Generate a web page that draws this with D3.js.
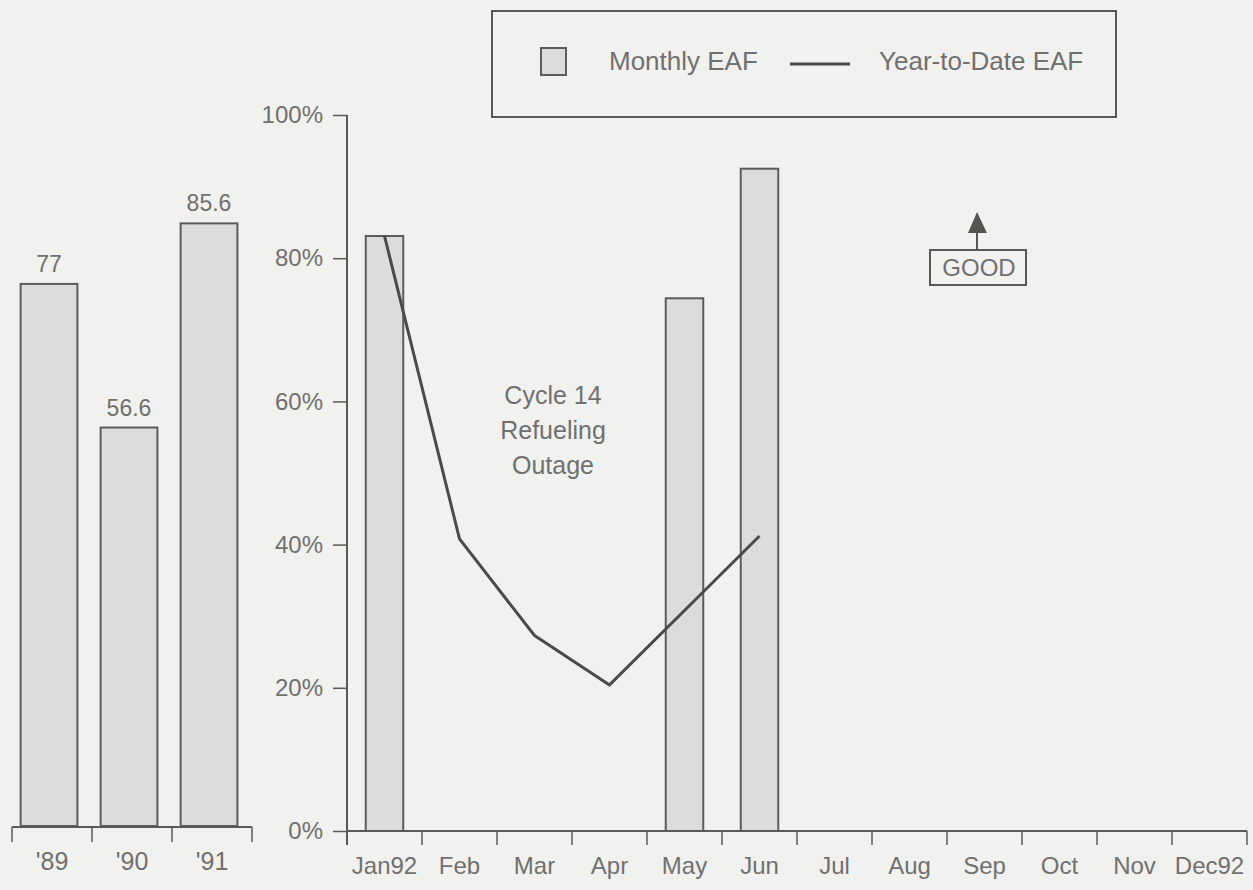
<!DOCTYPE html>
<html><head><meta charset="utf-8">
<script src="https://cdn.jsdelivr.net/npm/d3@7"></script>
<style>
html,body{margin:0;padding:0;background:#f1f1ef;}
svg{display:block;font-family:"Liberation Sans",Arial,sans-serif;}
</style></head>
<body>
<svg id="c" width="1253" height="890"></svg>
<script>
// ---- data ----
const years = ["'89", "'90", "'91"];
const yearValues = [77, 56.6, 85.6];
const yearLabels = ["77", "56.6", "85.6"];
const months = ["Jan92","Feb","Mar","Apr","May","Jun","Jul","Aug","Sep","Oct","Nov","Dec92"];
const monthlyEAF = [83.1, null, null, null, 74.4, 92.5, null, null, null, null, null, null];
const ytdEAF = [83.1, 40.8, 27.3, 20.4, 30.8, 41.2];
const yTicks = [0, 20, 40, 60, 80, 100];
const legendLabels = ["Monthly EAF", "Year-to-Date EAF"];
const noteLines = ["Cycle 14", "Refueling", "Outage"];

const svg = d3.select("#c");
const textCol = "#707070", lineCol = "#5a5a5a", barFill = "#dcdcda", barStroke = "#5c5c5c";

// ---- left chart (annual) ----
const xL = d3.scaleBand().domain(years).range([12, 252]).paddingInner(0.29).paddingOuter(0.145);
const yL = d3.scaleLinear().domain([0, 100]).range([826, 122]);
const gL = svg.append("g");
gL.selectAll("rect").data(years).join("rect")
  .attr("x", d => xL(d) - 3).attr("width", xL.bandwidth())
  .attr("y", (d,i) => yL(yearValues[i])).attr("height", (d,i) => yL(0) - yL(yearValues[i]))
  .attr("fill", barFill).attr("stroke", barStroke).attr("stroke-width", 2);
gL.selectAll("text.v").data(years).join("text").attr("class","v")
  .attr("x", d => xL(d) - 3 + xL.bandwidth()/2).attr("y", (d,i) => yL(yearValues[i]) - 12)
  .attr("text-anchor","middle").attr("font-size", 23).attr("fill", textCol)
  .text((d,i) => yearLabels[i]);
gL.append("line").attr("x1", xL.range()[0]).attr("x2", xL.range()[1])
  .attr("y1", 827).attr("y2", 827).attr("stroke", lineCol).attr("stroke-width", 2);
d3.range(years.length + 1).forEach(i => {
  const x = xL.range()[0] + i * xL.step();
  gL.append("line").attr("x1", x).attr("x2", x).attr("y1", 827).attr("y2", 842)
    .attr("stroke", lineCol).attr("stroke-width", 1.5);
});
gL.selectAll("text.c").data(years).join("text").attr("class","c")
  .attr("x", d => xL(d) + xL.bandwidth()/2).attr("y", 870)
  .attr("text-anchor","middle").attr("font-size", 25).attr("fill", textCol).text(d => d);

// ---- right chart (monthly) ----
const xR = d3.scaleBand().domain(months).range([347, 1247]).paddingInner(0.5).paddingOuter(0.25);
const yR = d3.scaleLinear().domain([0, 100]).range([831, 115]);
const gR = svg.append("g");
const mData = months.map((m,i) => ({m, v: monthlyEAF[i]})).filter(d => d.v != null);
gR.selectAll("rect").data(mData).join("rect")
  .attr("x", d => xR(d.m)).attr("width", xR.bandwidth())
  .attr("y", d => yR(d.v)).attr("height", d => yR(0) - yR(d.v))
  .attr("fill", barFill).attr("stroke", barStroke).attr("stroke-width", 2);

// y axis
const yAxis = gR.append("g").attr("transform", "translate(347,0)")
  .call(d3.axisLeft(yR).tickValues(yTicks).tickSize(14).tickSizeOuter(0).tickPadding(10).tickFormat(d => d + "%"));
yAxis.select(".domain").remove();
yAxis.selectAll(".tick line").attr("stroke", lineCol).attr("stroke-width", 1.5);
yAxis.selectAll(".tick text").attr("font-size", 24).attr("fill", textCol)
  .attr("font-family","Liberation Sans, Arial, sans-serif");
gR.append("line").attr("x1", 347).attr("x2", 347).attr("y1", yR(100)).attr("y2", 845)
  .attr("stroke", lineCol).attr("stroke-width", 2);

// x axis
gR.append("line").attr("x1", xR.range()[0]).attr("x2", xR.range()[1])
  .attr("y1", yR(0)).attr("y2", yR(0)).attr("stroke", lineCol).attr("stroke-width", 2);
d3.range(months.length + 1).forEach(i => {
  const x = xR.range()[0] + i * xR.step();
  gR.append("line").attr("x1", x).attr("x2", x).attr("y1", yR(0)).attr("y2", 845)
    .attr("stroke", lineCol).attr("stroke-width", 1.5);
});
gR.selectAll("text.m").data(months).join("text").attr("class","m")
  .attr("x", d => xR(d) + xR.bandwidth()/2).attr("y", 874)
  .attr("text-anchor","middle").attr("font-size", 24).attr("fill", textCol).text(d => d);

// YTD line
const line = d3.line().x((d,i) => xR(months[i]) + xR.bandwidth()/2).y(d => yR(d));
gR.append("path").datum(ytdEAF).attr("d", line).attr("fill","none")
  .attr("stroke", "#4a4a4a").attr("stroke-width", 3).attr("stroke-linejoin","round");

// annotation
const note = gR.append("text").attr("text-anchor","middle").attr("font-size", 25).attr("fill", textCol);
noteLines.forEach((t,i) => note.append("tspan").attr("x", 553).attr("y", 404 + i*35).text(t));

// GOOD
gR.append("rect").attr("x", 930).attr("y", 250).attr("width", 96).attr("height", 35)
  .attr("fill","none").attr("stroke", lineCol).attr("stroke-width", 2);
gR.append("text").attr("x", 979).attr("y", 276).attr("text-anchor","middle")
  .attr("font-size", 24).attr("fill", textCol).text("GOOD");
gR.append("line").attr("x1", 977).attr("x2", 977).attr("y1", 228).attr("y2", 250)
  .attr("stroke", "#555").attr("stroke-width", 2);
gR.append("path").attr("d", "M977,212 L968,233 L987,233 Z").attr("fill", "#555");

// legend
const lg = svg.append("g");
lg.append("rect").attr("x", 492).attr("y", 11).attr("width", 624).attr("height", 106)
  .attr("fill","none").attr("stroke", lineCol).attr("stroke-width", 2);
lg.append("rect").attr("x", 541).attr("y", 48).attr("width", 25).attr("height", 27)
  .attr("fill", barFill).attr("stroke", barStroke).attr("stroke-width", 2);
lg.append("text").attr("x", 609).attr("y", 70).attr("font-size", 26).attr("fill", textCol).text(legendLabels[0]);
lg.append("line").attr("x1", 790).attr("x2", 850).attr("y1", 64).attr("y2", 64)
  .attr("stroke", "#4a4a4a").attr("stroke-width", 3);
lg.append("text").attr("x", 879).attr("y", 70).attr("font-size", 26).attr("fill", textCol).text(legendLabels[1]);
</script>
</body></html>
